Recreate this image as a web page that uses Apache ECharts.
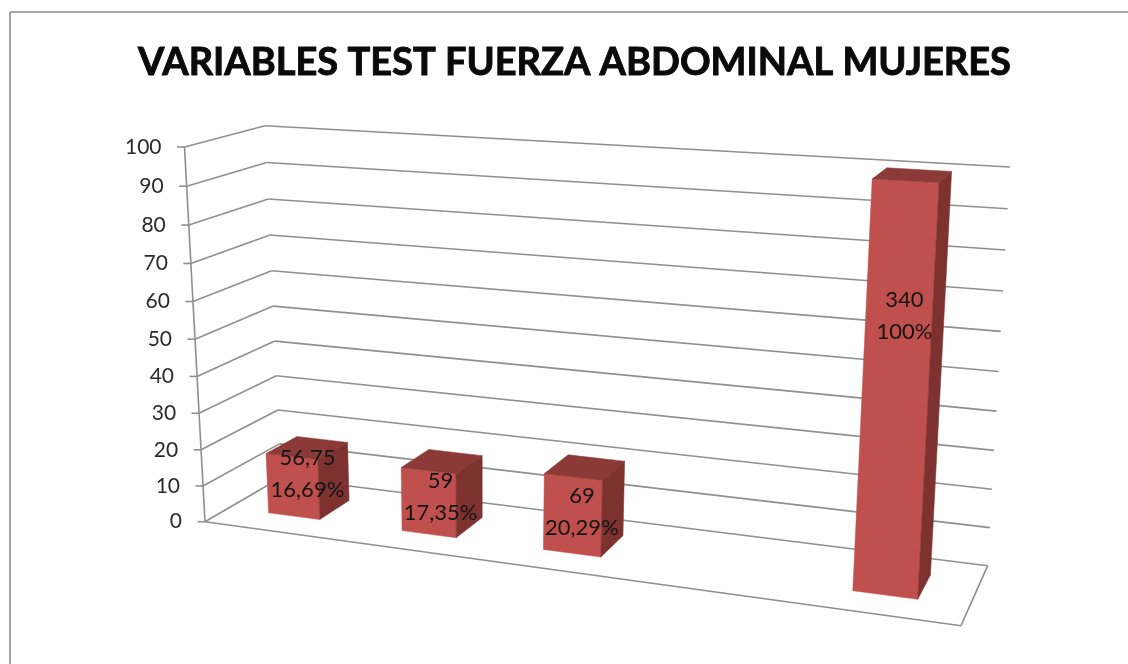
<!DOCTYPE html>
<html>
<head>
<meta charset="utf-8">
<style>html,body{margin:0;padding:0;background:#fff}#c{width:1128px;height:664px}</style>
<script src="https://cdn.jsdelivr.net/npm/echarts@6/dist/echarts.min.js"></script>
</head>
<body>
<div id="c"></div>
<script>
const chartTitle = 'VARIABLES TEST FUERZA ABDOMINAL MUJERES';
const categories = ['1', '2', '3', '4', '5'];
const percentValues = [16.69, 17.35, 20.29, null, 100];
const countLabels = ['56,75', '59', '69', '', '340'];
const percentLabels = ['16,69%', '17,35%', '20,29%', '', '100%'];
const yTicks = [0, 10, 20, 30, 40, 50, 60, 70, 80, 90, 100];

// Projection of the 3D box: floor and ceiling planes as screen quads (FL, FR, BR, BL)
const floorQuad = [[205, 521.7], [961, 625.7], [987.7, 565.7], [281, 477.5]];
const ceilQuad = [[184.5, 147], [984, 195], [1010, 167], [265, 125.7]];
const depthFront = 0.305, depthBack = 0.72, barFill = 0.39, warp = 0.012;
const labelRise = [0.55, 0.43, 0.41, 0.5, 0.665];
const LINE = '#8f8f8f';

function quadMap(q) {
  const [p0, p1, p2, p3] = q;
  const dx1 = p1[0] - p2[0], dx2 = p3[0] - p2[0], sx = p0[0] - p1[0] + p2[0] - p3[0];
  const dy1 = p1[1] - p2[1], dy2 = p3[1] - p2[1], sy = p0[1] - p1[1] + p2[1] - p3[1];
  const det = dx1 * dy2 - dx2 * dy1;
  const g = (sx * dy2 - dx2 * sy) / det, h = (dx1 * sy - sx * dy1) / det;
  const a = p1[0] - p0[0] + g * p1[0], b = p3[0] - p0[0] + h * p3[0];
  const d = p1[1] - p0[1] + g * p1[1], e = p3[1] - p0[1] + h * p3[1];
  return (u, v) => {
    const w = g * u + h * v + 1;
    return [(a * u + b * v + p0[0]) / w, (d * u + e * v + p0[1]) / w];
  };
}
const onFloor = quadMap(floorQuad), onCeil = quadMap(ceilQuad);
function project(u0, v, t, k) {
  const u = u0 + (k === undefined ? warp : k) * u0 * (1 - u0);
  const f = t * 0.95 / (1 - 0.05 * t);
  const a = onFloor(u, v), b = onCeil(u, v);
  return [a[0] + (b[0] - a[0]) * f, a[1] + (b[1] - a[1]) * f];
}
function seg(a, b, lw) {
  return { type: 'line', shape: { x1: a[0], y1: a[1], x2: b[0], y2: b[1] },
           style: { stroke: LINE, lineWidth: lw || 1.6, fill: null } };
}
function poly(points, fill) {
  return { type: 'polygon', shape: { points }, style: { fill, stroke: fill, lineWidth: 0.5 } };
}
function renderFrame(params, api) {
  const cs = params.coordSys;
  const tick = api.value(1);
  const t = (cs.y + cs.height - api.coord([0, tick])[1]) / cs.height;
  const fl = project(0, 0, t), bl = project(0, 1, t), br = project(1, 1, t);
  const kids = [
    seg(fl, bl), seg(bl, br),
    seg([fl[0] - 7.5, fl[1]], fl),
    { type: 'text', style: { text: yTicks[params.dataIndex] + '', x: fl[0] - 23, y: fl[1],
        align: 'right', verticalAlign: 'middle', fill: '#2b2b2b', fontFamily: 'Lato', fontSize: 21 } }
  ];
  if (params.dataIndex === 0) {
    const fr = project(1, 0, 0);
    kids.push(seg(fl, fr), seg(fr, br), seg(fl, project(0, 0, 1)));
  }
  return { type: 'group', children: kids };
}
function renderBar(params, api) {
  const val = api.value(1);
  if (isNaN(val)) return;
  const cs = params.coordSys;
  const base = api.coord([api.value(0), 0]);
  const top = api.coord([api.value(0), val]);
  const slot = api.size([1, 0])[0] / cs.width;
  const uc = (base[0] - cs.x) / cs.width;
  const t = (base[1] - top[1]) / cs.height;
  const u0 = uc - slot * barFill / 2, u1 = uc + slot * barFill / 2;
  const A = project(u0, depthFront, 0), B = project(u1, depthFront, 0);
  const C = project(u1, depthFront, t), D = project(u0, depthFront, t);
  const E = project(u1, depthBack, 0), F = project(u1, depthBack, t), G = project(u0, depthBack, t);
  const i = params.dataIndex;
  const L = project(uc, (depthFront + depthBack) / 2, t * labelRise[i], 0);
  const txt = (s, dy) => ({ type: 'text', style: { text: s, x: L[0], y: L[1] + dy, align: 'center',
      verticalAlign: 'middle', fill: '#141414', fontFamily: 'Lato', fontSize: 22 } });
  return { type: 'group', children: [
    poly([A, B, C, D], '#C0504D'),
    poly([D, C, F, G], '#8B3A38'),
    poly([B, E, F, C], '#7D3230'),
    txt(countLabels[i], -16), txt(percentLabels[i], 16)
  ] };
}
const chart = echarts.init(document.getElementById('c'), null, { renderer: 'canvas' });
chart.setOption({
  animation: false,
  backgroundColor: '#fff',
  title: { text: chartTitle, left: 569.5, top: 39, textAlign: 'center',
    textStyle: { fontFamily: 'Lato', fontWeight: 'bold', fontSize: 38, color: '#0a0a0a',
      textBorderColor: '#0a0a0a', textBorderWidth: 0.9 } },
  grid: { left: 0, right: 0, top: 0, bottom: 0 },
  xAxis: { type: 'category', data: categories, show: false },
  yAxis: { type: 'value', min: 0, max: 100, interval: 10, show: false },
  graphic: [
    { type: 'line', shape: { x1: 10, y1: 12, x2: 1128, y2: 12 }, style: { stroke: '#8c8c8c', lineWidth: 1.6 } },
    { type: 'line', shape: { x1: 10, y1: 12, x2: 10, y2: 664 }, style: { stroke: '#8c8c8c', lineWidth: 1.6 } }
  ],
  series: [
    { type: 'custom', z: 1, silent: true, renderItem: renderFrame, clip: false,
      encode: { x: 0, y: 1 }, data: yTicks.map(v => [0, v]) },
    { type: 'custom', z: 2, silent: true, renderItem: renderBar, clip: false,
      encode: { x: 0, y: 1 }, data: percentValues.map((v, i) => [i, v === null ? '-' : v]) }
  ]
});
</script>
</body>
</html>
